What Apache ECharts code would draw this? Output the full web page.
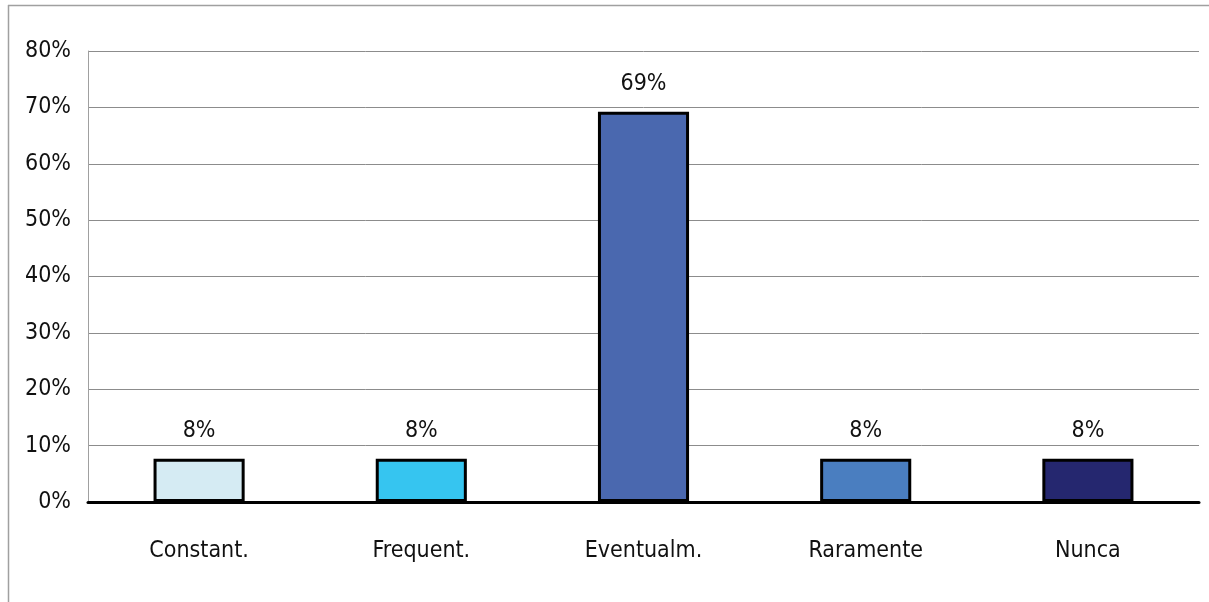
<!DOCTYPE html>
<html>
<head>
<meta charset="utf-8">
<style>
  html, body { margin: 0; padding: 0; background: #fff; }
  #chart { width: 1209px; height: 602px; }
</style>
<script src="https://cdn.jsdelivr.net/npm/echarts@6/dist/echarts.min.js"></script>
</head>
<body>
<div id="chart"></div>
<script>
// Response frequency shares (percent of respondents)
const categories = ['Constant.', 'Frequent.', 'Eventualm.', 'Raramente', 'Nunca'];
const shares = [7.69, 7.69, 69.23, 7.69, 7.69];
const barColors = ['#D5EBF3', '#36C5F0', '#4A68AF', '#4A7EC0', '#25276F'];
const yTicks = { min: 0, max: 80, step: 10 };

const FONT = '"Liberation Sans Narrow", "DejaVu Sans Condensed", "Arial Narrow", sans-serif';

const chart = echarts.init(document.getElementById('chart'), null, { renderer: 'canvas' });

chart.setOption({
  backgroundColor: '#ffffff',
  animation: false,
  graphic: [
    // frame around the chart (top and left edges visible)
    { type: 'line', shape: { x1: 8, y1: 5.5, x2: 1209, y2: 5.5 }, style: { stroke: '#a0a0a0', lineWidth: 1.5 }, silent: true },
    { type: 'line', shape: { x1: 8.5, y1: 5, x2: 8.5, y2: 602 }, style: { stroke: '#a0a0a0', lineWidth: 1.5 }, silent: true }
  ],
  grid: { left: 88, right: 10, top: 51, bottom: 100, containLabel: false },
  xAxis: {
    type: 'category',
    data: categories,
    axisLine: { show: true, lineStyle: { color: '#000', width: 3 } },
    axisTick: { show: false },
    axisLabel: { margin: 38, color: '#111', fontFamily: FONT, fontSize: 23 },
    z: 5
  },
  yAxis: {
    type: 'value',
    min: yTicks.min,
    max: yTicks.max,
    interval: yTicks.step,
    axisLine: { show: true, lineStyle: { color: '#a0a0a0', width: 1 } },
    axisTick: { show: false },
    axisLabel: { formatter: '{value}%', margin: 17, color: '#111', fontFamily: FONT, fontSize: 23 },
    splitLine: { show: true, lineStyle: { color: '#8c8c8c', width: 1 } }
  },
  series: [{
    type: 'bar',
    barWidth: '41%',
    data: shares.map((v, i) => ({
      value: v,
      itemStyle: { color: barColors[i], borderColor: '#000', borderWidth: 3 }
    })),
    label: {
      show: true,
      position: 'top',
      distance: 16,
      color: '#111',
      fontFamily: FONT,
      fontSize: 23,
      formatter: p => Math.round(p.value) + '%'
    }
  }]
});
</script>
</body>
</html>
